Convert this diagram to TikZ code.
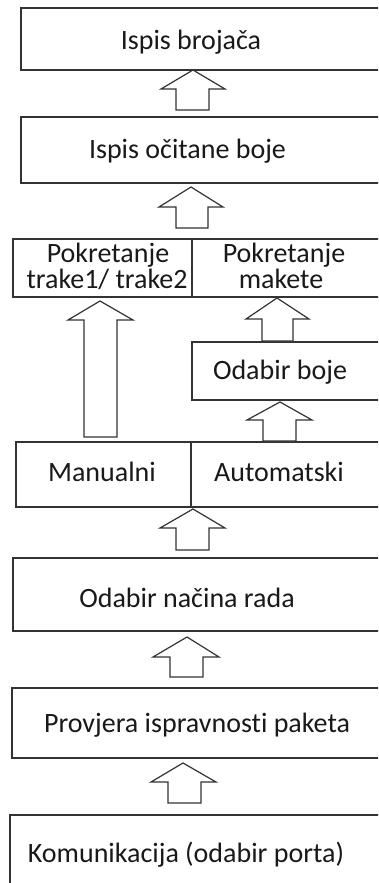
\documentclass[tikz,border=0pt]{standalone}
\usepackage{fontspec}
\setmainfont{Carlito}[Ligatures=CommonOff]
\newcommand{\blockarrow}[8]{%
  \draw[arr] (#1,#2) -- (#5,#3) -- (#7,#3) -- (#7,#8) -- (#6,#8) -- (#6,#3) -- (#4,#3) -- cycle;}
\begin{document}
\begin{tikzpicture}[x=1pt,y=-1pt,
  box/.style={draw=black!80,line width=1.3pt},
  arr/.style={draw=black!80,line width=1.2pt,fill=white,line join=miter},
  lbl/.style={inner sep=0pt,anchor=base,font=\fontsize{28}{26}\selectfont,text=black!90}]
\useasboundingbox (0,0) rectangle (378,883);
\clip (0,0) rectangle (378,883);
\fill[white] (0,0) rectangle (378,883);
% boxes
\draw[box] (21,8) rectangle (400,70);
\draw[box] (21,117) rectangle (400,183);
\draw[box] (13,239) rectangle (400,297);
\draw[box] (192,239) -- (192,297);
\draw[box] (192,342) rectangle (400,400);
\draw[box] (16,442) rectangle (400,507);
\draw[box] (191,442) -- (191,507);
\draw[box] (13,558) rectangle (400,631);
\draw[box] (12,688) rectangle (400,758);
\draw[box] (10,815) rectangle (400,900);
% texts
\node[lbl] (t1) at (191,50) {Ispis brojača};
\node[lbl] (t2) at (187.5,158) {Ispis očitane boje};
\node[lbl] (t3a) at (108,262) {Pokretanje};
\node[lbl] (t3b) at (107,288) {trake1/ trake2};
\node[lbl] (t4a) at (284,262) {Pokretanje};
\node[lbl] (t4b) at (281,288) {makete};
\node[lbl] (t5) at (280,379) {Odabir boje};
\node[lbl] (t6) at (102,481) {Manualni};
\node[lbl] (t7) at (279,481) {Automatski};
\node[lbl] (t8) at (187,607) {Odabir načina rada};
\node[lbl] (t9) at (197,732) {Provjera ispravnosti paketa};
\node[lbl] (t10) at (186,862) {Komunikacija (odabir porta)};
% block arrows
\blockarrow{193}{70}{89}{161}{225}{176}{209}{110}
\blockarrow{191}{187}{207}{159}{223}{176}{208}{228}
\blockarrow{100}{301}{320}{68}{133}{84}{117}{437}
\blockarrow{277}{298}{319}{246}{309}{262}{293}{341}
\blockarrow{280}{402}{420}{247}{312}{263}{296}{441}
\blockarrow{193}{509}{528}{160}{225}{176}{209}{550}
\blockarrow{187}{637}{657}{153}{219}{170}{203}{677}
\blockarrow{183}{763}{782}{151}{216}{168}{201}{803}
\end{tikzpicture}
\end{document}
